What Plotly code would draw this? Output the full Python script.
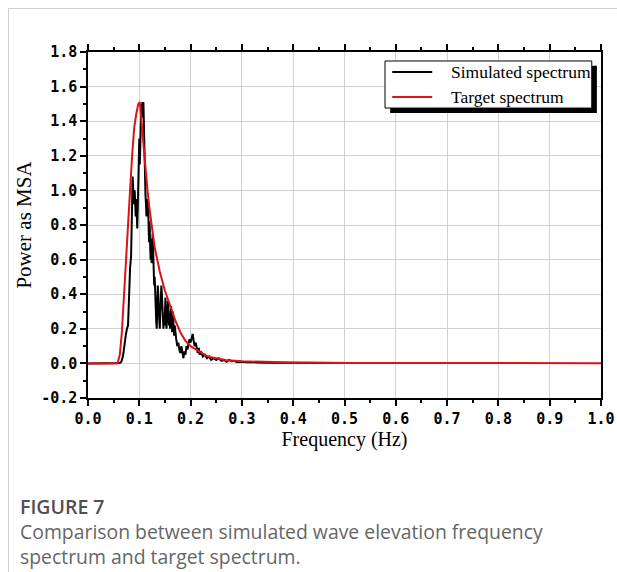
import plotly.graph_objects as go

# Simulated wave elevation spectrum (frequency in Hz, power as MSA)
sim_freq = [0.0, 0.06, 0.062, 0.065, 0.068, 0.070, 0.072, 0.074, 0.076, 0.078, 0.079, 0.080,
            0.082, 0.084, 0.085, 0.086, 0.087, 0.088, 0.089, 0.090, 0.091, 0.092, 0.093, 0.094,
            0.095, 0.096, 0.097, 0.098, 0.099, 0.100, 0.101, 0.102, 0.103, 0.104, 0.105, 0.106,
            0.107, 0.108, 0.109, 0.110, 0.111, 0.112, 0.113, 0.114, 0.115, 0.116, 0.117, 0.118,
            0.119, 0.120, 0.121, 0.122, 0.123, 0.124, 0.125, 0.126, 0.127, 0.128, 0.129, 0.130,
            0.131, 0.132, 0.133, 0.134, 0.135, 0.136, 0.137, 0.138, 0.139, 0.140, 0.141, 0.142,
            0.143, 0.144, 0.145, 0.146, 0.147, 0.148, 0.149, 0.150, 0.151, 0.152, 0.153, 0.154,
            0.155, 0.156, 0.157, 0.158, 0.159, 0.160, 0.161, 0.162, 0.163, 0.164, 0.165, 0.166,
            0.167, 0.168, 0.169, 0.170, 0.172, 0.174, 0.176, 0.178, 0.180, 0.182, 0.184, 0.186,
            0.188, 0.190, 0.192, 0.194, 0.196, 0.198, 0.200, 0.202, 0.204, 0.206, 0.208, 0.210,
            0.212, 0.214, 0.216, 0.218, 0.220, 0.224, 0.228, 0.232, 0.236, 0.240, 0.245, 0.250,
            0.255, 0.260, 0.265, 0.270, 0.275, 0.280, 0.285, 0.290, 0.300, 0.310, 0.320, 0.330,
            0.350, 0.380, 0.400, 0.430, 0.450, 0.480, 0.500, 0.530, 0.550]
sim_power = [0.0, 0.0, 0.002, 0.01, 0.04, 0.08, 0.15, 0.17, 0.20, 0.22, 0.30, 0.42,
             0.55, 0.62, 0.78, 0.95, 1.08, 1.02, 0.92, 0.95, 1.00, 0.90, 0.85, 0.95,
             0.82, 0.78, 0.90, 1.05, 1.20, 1.30, 1.15, 1.35, 1.45, 1.50, 1.42, 1.51,
             1.48, 1.51, 1.30, 1.15, 1.05, 0.98, 0.92, 0.85, 0.95, 0.90, 0.93, 0.78,
             0.70, 0.82, 0.65, 0.60, 0.72, 0.58, 0.62, 0.75, 0.60, 0.55, 0.45, 0.50,
             0.38, 0.30, 0.24, 0.20, 0.32, 0.45, 0.40, 0.30, 0.22, 0.20, 0.30, 0.35,
             0.45, 0.40, 0.30, 0.25, 0.20, 0.28, 0.22, 0.30, 0.38, 0.28, 0.20, 0.25,
             0.30, 0.36, 0.30, 0.22, 0.26, 0.20, 0.28, 0.33, 0.24, 0.18, 0.30, 0.28,
             0.20, 0.16, 0.22, 0.18, 0.14, 0.10, 0.12, 0.08, 0.06, 0.10, 0.06, 0.03,
             0.07, 0.05, 0.10, 0.08, 0.12, 0.14, 0.12, 0.15, 0.17, 0.13, 0.10, 0.12,
             0.08, 0.06, 0.09, 0.05, 0.07, 0.04, 0.05, 0.03, 0.04, 0.02, 0.03, 0.02,
             0.03, 0.015, 0.02, 0.01, 0.02, 0.012, 0.015, 0.008, 0.01, 0.006, 0.008, 0.005,
             0.004, 0.003, 0.004, 0.002, 0.003, 0.002, 0.003, 0.002, 0.002]

# Target spectrum
tgt_freq = [0.0, 0.055, 0.058, 0.062, 0.066, 0.070, 0.074, 0.078, 0.082, 0.086, 0.090, 0.094,
            0.098, 0.101, 0.104, 0.108, 0.112, 0.116, 0.120, 0.124, 0.130, 0.135, 0.140, 0.150,
            0.160, 0.170, 0.180, 0.190, 0.200, 0.210, 0.220, 0.230, 0.240, 0.250, 0.270, 0.300,
            0.350, 0.400, 0.500, 0.600, 0.800, 1.0]
tgt_power = [0.0, 0.0, 0.005, 0.05, 0.18, 0.40, 0.62, 0.82, 1.00, 1.20, 1.36, 1.44,
             1.50, 1.51, 1.40, 1.25, 1.12, 1.00, 0.89, 0.79, 0.67, 0.60, 0.53, 0.42,
             0.33, 0.25, 0.18, 0.13, 0.10, 0.08, 0.06, 0.045, 0.035, 0.028, 0.018, 0.012,
             0.007, 0.005, 0.003, 0.002, 0.001, 0.001]

x_ticks = [round(i * 0.1, 1) for i in range(11)]
x_tick_text = [f"{v:.1f}" for v in x_ticks]
y_ticks = [round(-0.2 + i * 0.2, 1) for i in range(11)]
y_tick_text = [f"{v:.1f}" for v in y_ticks]

series_names = ["Simulated spectrum", "Target spectrum"]
series_colors = ["#000000", "#dc1419"]

fig = go.Figure()
fig.add_trace(go.Scatter(x=sim_freq, y=sim_power, mode="lines", name=series_names[0],
                         line=dict(color=series_colors[0], width=2), showlegend=False))
fig.add_trace(go.Scatter(x=tgt_freq, y=tgt_power, mode="lines", name=series_names[1],
                         line=dict(color=series_colors[1], width=2), showlegend=False))

tick_font = dict(family="DejaVu Sans Mono", size=15, color="#000000", weight="bold")

fig.update_xaxes(range=[0, 1.0], tickvals=x_ticks, ticktext=x_tick_text, tickfont=tick_font,
                 showline=True, linecolor="#000000", linewidth=1.5, mirror="ticks",
                 ticks="outside", ticklen=6, tickwidth=1.5, tickcolor="#000000",
                 minor=dict(dtick=0.05, tick0=0, ticks="outside", ticklen=3, tickwidth=1.5,
                            tickcolor="#000000", showgrid=False),
                 showgrid=True, gridcolor="#d2d2d2", gridwidth=1, zeroline=False,
                 automargin=False,
                 title=dict(text="Frequency (Hz)", standoff=3,
                            font=dict(family="Liberation Serif", size=20, color="#000000")))
fig.update_yaxes(range=[-0.2, 1.8], tickvals=y_ticks, ticktext=y_tick_text, tickfont=tick_font,
                 showline=True, linecolor="#000000", linewidth=1.5, mirror=True,
                 ticks="outside", ticklen=6, tickwidth=1.5, tickcolor="#000000",
                 minor=dict(dtick=0.1, tick0=-0.2, ticks="outside", ticklen=3, tickwidth=1.5,
                            tickcolor="#000000", showgrid=False),
                 showgrid=True, gridcolor="#d2d2d2", gridwidth=1, zeroline=False,
                 automargin=False,
                 title=dict(text="Power as MSA", standoff=4,
                            font=dict(family="Liberation Serif", size=21, color="#000000")))

# Legend box with drop shadow, drawn in paper coordinates
shapes = [
    dict(type="rect", xref="paper", yref="paper", x0=0.589, x1=0.992, y0=0.824, y1=0.960,
         fillcolor="#000000", line=dict(width=0), layer="above"),
    dict(type="rect", xref="paper", yref="paper", x0=0.579, x1=0.982, y0=0.838, y1=0.974,
         fillcolor="#ffffff", line=dict(color="#000000", width=1), layer="above"),
    dict(type="line", xref="paper", yref="paper", x0=0.593, x1=0.671, y0=0.942, y1=0.942,
         line=dict(color=series_colors[0], width=2), layer="above"),
    dict(type="line", xref="paper", yref="paper", x0=0.593, x1=0.671, y0=0.870, y1=0.870,
         line=dict(color=series_colors[1], width=2), layer="above"),
    # page frame lines
    dict(type="line", xref="paper", yref="paper", x0=(8 - 88) / 513, x1=(617 - 88) / 513,
         y0=(398 - 8.5) / 346, y1=(398 - 8.5) / 346, line=dict(color="#d0d0d0", width=1)),
    dict(type="line", xref="paper", yref="paper", x0=(8.5 - 88) / 513, x1=(8.5 - 88) / 513,
         y0=(398 - 8.5) / 346, y1=(398 - 572) / 346, line=dict(color="#d0d0d0", width=1)),
]
legend_font = dict(family="Liberation Serif", size=17.5, color="#000000")
annotations = [
    dict(text=series_names[0], xref="paper", yref="paper", x=0.703, y=0.942, xanchor="left",
         yanchor="middle", showarrow=False, font=legend_font),
    dict(text=series_names[1], xref="paper", yref="paper", x=0.703, y=0.870, xanchor="left",
         yanchor="middle", showarrow=False, font=legend_font),
    dict(text="FIGURE 7", xref="paper", yref="paper", x=(18 - 88) / 513, y=(398 - 506) / 346,
         xanchor="left", yanchor="middle", showarrow=False,
         font=dict(family="Open Sans", size=19.5, color="#505050", weight=600)),
    dict(text="Comparison between simulated wave elevation frequency<br>spectrum and target spectrum.",
         xref="paper", yref="paper", x=(18 - 88) / 513, y=(398 - 543.5) / 346,
         xanchor="left", yanchor="middle", align="left", showarrow=False,
         font=dict(family="Open Sans", size=19.4, color="#666666")),
]

fig.update_layout(width=617, height=572, margin=dict(l=88, r=16, t=52, b=174),
                  paper_bgcolor="#ffffff", plot_bgcolor="#ffffff",
                  shapes=shapes, annotations=annotations, showlegend=False)

fig.write_html("out.html")
